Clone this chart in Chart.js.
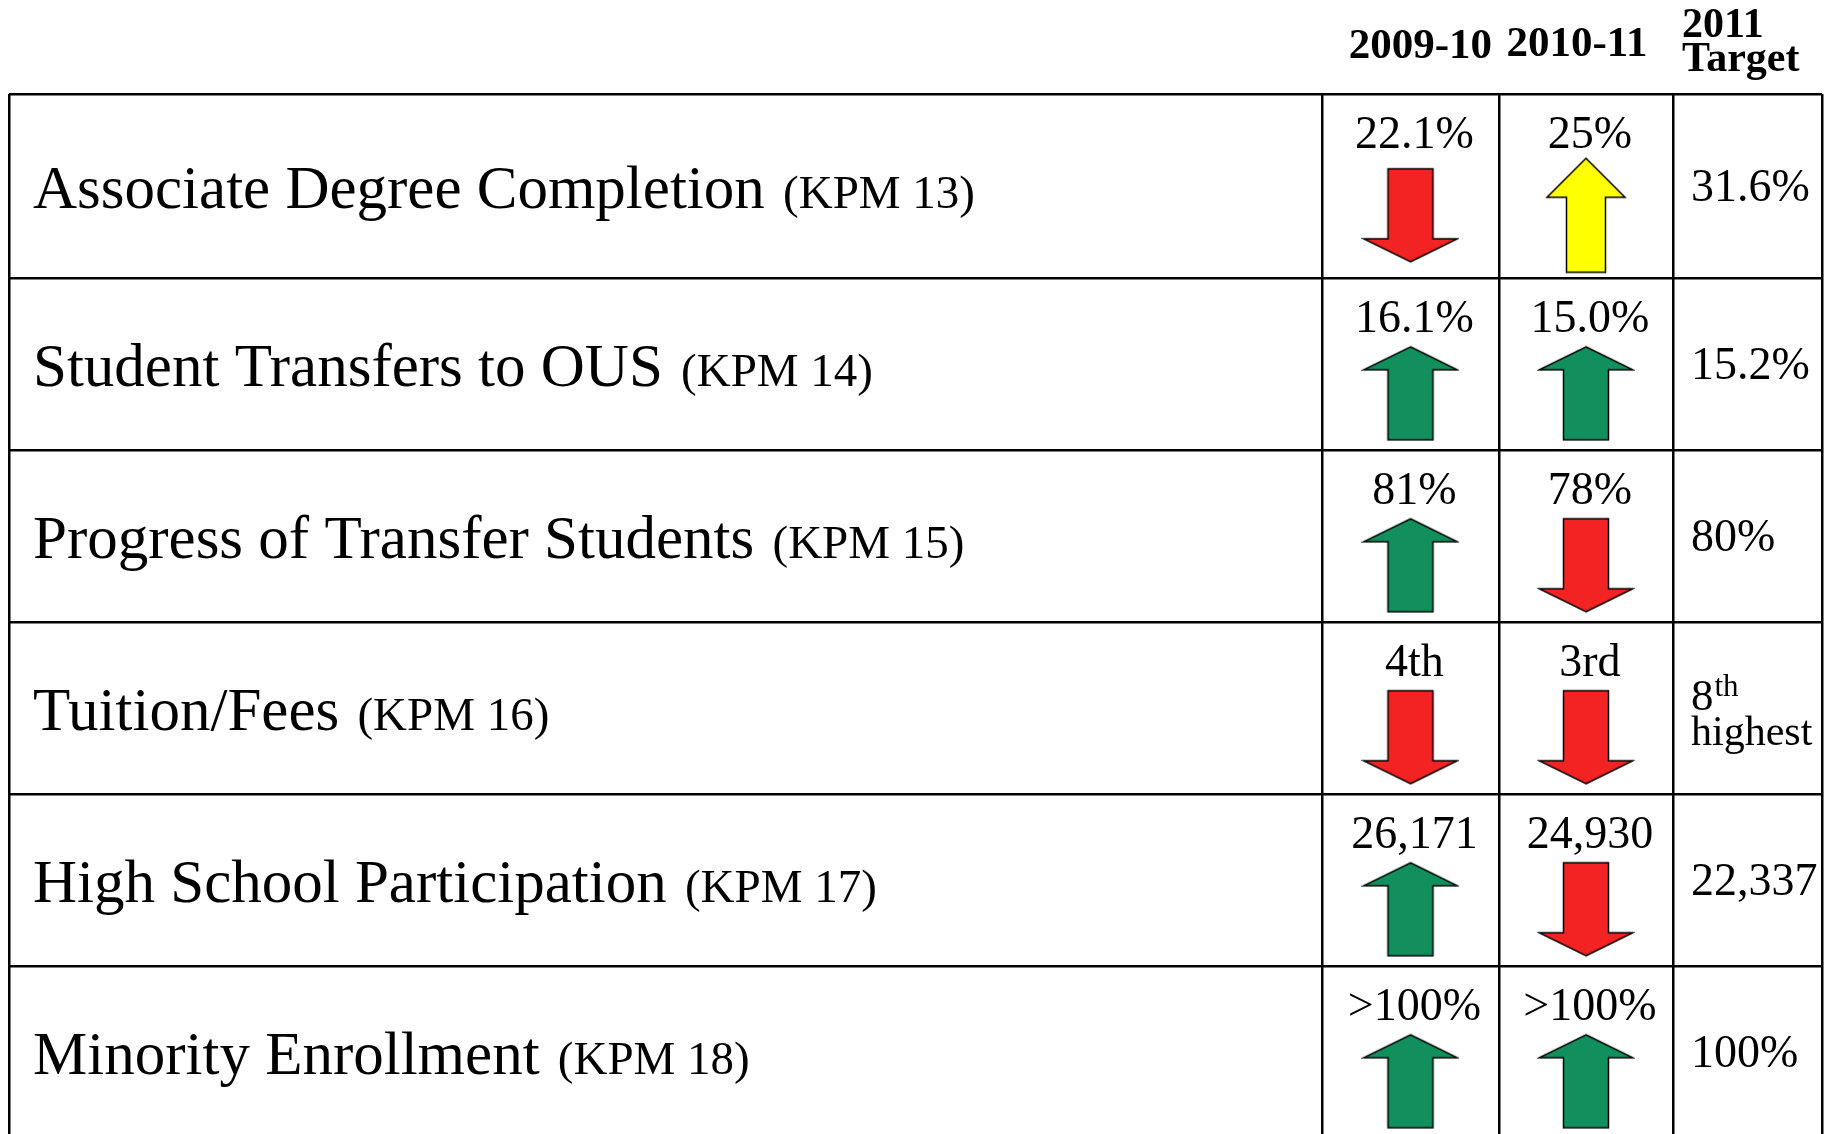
<!DOCTYPE html>
<html>
<head>
<meta charset="utf-8">
<script src="https://cdn.jsdelivr.net/npm/chart.js@4.4.0/dist/chart.umd.min.js"></script>
<style>
  html, body { margin: 0; padding: 0; background: #fff; overflow: hidden; }
  canvas { display: block; }
</style>
</head>
<body>
<canvas id="kpmChart" width="1832" height="1134"></canvas>
<script>
var indicators = ['Associate Degree Completion', 'Student Transfers to OUS', 'Progress of Transfer Students',
    'Tuition/Fees', 'High School Participation', 'Minority Enrollment'];
var kpmCodes = ['(KPM 13)', '(KPM 14)', '(KPM 15)', '(KPM 16)', '(KPM 17)', '(KPM 18)'];
var periods = ['2009-10', '2010-11'];
var targetHeader = ['2011', 'Target'];

var values0910 = ['22.1%', '16.1%', '81%', '4th', '26,171', '>100%'];
var values1011 = ['25%', '15.0%', '78%', '3rd', '24,930', '>100%'];
var targets2011 = ['31.6%', '15.2%', '80%', '8th highest', '22,337', '100%'];

var trend0910 = ['down', 'up', 'up', 'down', 'up', 'up'];
var trend1011 = ['up', 'up', 'down', 'down', 'down', 'up'];
var status0910 = ['red', 'green', 'green', 'red', 'green', 'green'];
var status1011 = ['yellow', 'green', 'red', 'red', 'red', 'green'];

// table layout: x in % of table width, y in row units (first row is a bit taller)
var colEdges = [0, 72.42, 82.18, 91.78, 100];
var rowEdges = [0, 1.07, 2.07, 3.07, 4.07, 5.07, 6.07];
var yMax = 6.047;
var arrowShift = 0.17;

var SERIF = "'Liberation Serif', 'Times New Roman', serif";
var arrowColors = { red: '#f42323', green: '#11905d', yellow: '#ffff00' };
var arrowShapes = {
    normal: { w: 94, h: 93, shaft: 45, head: 23 },
    yellow: { w: 78, h: 114, shaft: 39, head: 39 }
};

function colCenter(i) { return (colEdges[i] + colEdges[i + 1]) / 2; }
function rowCenter(i) { return (rowEdges[i] + rowEdges[i + 1]) / 2; }

function makeArrow(status, dir) {
    var s = status === 'yellow' ? arrowShapes.yellow : arrowShapes.normal;
    var c = document.createElement('canvas');
    c.width = s.w + 4;
    c.height = s.h + 4;
    var ctx = c.getContext('2d');
    ctx.translate(2, 2);
    if (dir === 'down') {
        ctx.translate(0, s.h);
        ctx.scale(1, -1);
    }
    var mid = s.w / 2, hs = s.shaft / 2;
    ctx.beginPath();
    ctx.moveTo(mid, 0);
    ctx.lineTo(s.w, s.head);
    ctx.lineTo(mid + hs, s.head);
    ctx.lineTo(mid + hs, s.h);
    ctx.lineTo(mid - hs, s.h);
    ctx.lineTo(mid - hs, s.head);
    ctx.lineTo(0, s.head);
    ctx.closePath();
    ctx.fillStyle = arrowColors[status];
    ctx.fill();
    ctx.lineWidth = 1.5;
    ctx.strokeStyle = '#000';
    ctx.stroke();
    return c;
}

var columns = [
    { values: values0910, trend: trend0910, status: status0910 },
    { values: values1011, trend: trend1011, status: status1011 }
];

var arrowPoints = [];
var arrowStyles = [];
columns.forEach(function (col, c) {
    for (var r = 0; r < indicators.length; r++) {
        arrowPoints.push({ x: colCenter(c + 1), y: rowCenter(r) + arrowShift });
        arrowStyles.push(makeArrow(col.status[r], col.trend[r]));
    }
});

function drawTarget(ctx, text, x, yMid) {
    var m = text.match(/^(\d+)(st|nd|rd|th) (.+)$/);
    ctx.textAlign = 'left';
    if (!m) {
        ctx.font = '46px ' + SERIF;
        ctx.fillText(text, x, yMid + 15);
        return;
    }
    ctx.font = '45px ' + SERIF;
    ctx.fillText(m[1], x, yMid + 2);
    var w = ctx.measureText(m[1]).width;
    ctx.font = '31px ' + SERIF;
    ctx.fillText(m[2], x + w + 1, yMid - 12);
    ctx.font = '42px ' + SERIF;
    ctx.fillText(m[3], x, yMid + 37);
}

var tableText = {
    id: 'tableText',
    afterDatasetsDraw: function (chart) {
        var ctx = chart.ctx, xs = chart.scales.x, ys = chart.scales.y;
        var top = chart.chartArea.top;
        ctx.save();
        ctx.fillStyle = '#000';
        ctx.textBaseline = 'alphabetic';

        // column headers
        ctx.font = 'bold 43px ' + SERIF;
        ctx.textAlign = 'center';
        ctx.fillText(periods[0], xs.getPixelForValue(colCenter(1)) + 10, top - 36);
        ctx.fillText(periods[1], xs.getPixelForValue(colCenter(2)) - 9, top - 38);
        ctx.textAlign = 'left';
        ctx.font = 'bold 42px ' + SERIF;
        var tx = xs.getPixelForValue(colEdges[3]) + 9;
        ctx.fillText(targetHeader[0], tx, top - 57);
        ctx.fillText(targetHeader[1], tx, top - 23);

        var left = xs.getPixelForValue(0) + 24;
        for (var r = 0; r < indicators.length; r++) {
            var yc = ys.getPixelForValue(rowCenter(r));
            var yTop = ys.getPixelForValue(rowEdges[r]);

            // indicator label + KPM code
            ctx.textAlign = 'left';
            ctx.font = '61px ' + SERIF;
            var label = indicators[r] + ' ';
            ctx.fillText(label, left, yc + 22);
            var lw = ctx.measureText(label).width;
            ctx.font = '47px ' + SERIF;
            ctx.fillText(kpmCodes[r], left + lw + 3, yc + 22);

            // period values above the arrows
            ctx.textAlign = 'center';
            ctx.font = '46px ' + SERIF;
            columns.forEach(function (col, c) {
                ctx.fillText(col.values[r], xs.getPixelForValue(colCenter(c + 1)) + 4, yTop + 54);
            });

            // target
            drawTarget(ctx, targets2011[r], xs.getPixelForValue(colEdges[3]) + 18, yc);
        }
        ctx.restore();
    }
};

var gridStyle = { color: '#000', lineWidth: 2.5, drawTicks: false };

var ctx = document.getElementById('kpmChart');
var kpmChart = new Chart(ctx, {
    type: 'scatter',
    data: {
        datasets: [{
            label: 'Trend',
            data: arrowPoints,
            pointStyle: arrowStyles,
            pointRadius: 10,
            showLine: false
        }]
    },
    options: {
        responsive: false,
        devicePixelRatio: 1,
        animation: false,
        events: [],
        layout: { autoPadding: false, padding: { top: 94, left: 9, right: 10, bottom: 0 } },
        plugins: {
            legend: { display: false },
            tooltip: { enabled: false }
        },
        scales: {
            x: {
                type: 'linear',
                min: 0,
                max: 100,
                grid: gridStyle,
                border: { display: false },
                ticks: { display: false },
                afterBuildTicks: function (scale) {
                    scale.ticks = colEdges.map(function (v) { return { value: v }; });
                },
                afterFit: function (scale) { scale.height = 0; }
            },
            y: {
                type: 'linear',
                reverse: true,
                min: 0,
                max: yMax,
                grid: gridStyle,
                border: { display: false },
                ticks: { display: false },
                afterBuildTicks: function (scale) {
                    scale.ticks = rowEdges.filter(function (v) { return v <= yMax; })
                        .map(function (v) { return { value: v }; });
                },
                afterFit: function (scale) { scale.width = 0; }
            }
        }
    },
    plugins: [tableText]
});
</script>
</body>
</html>
